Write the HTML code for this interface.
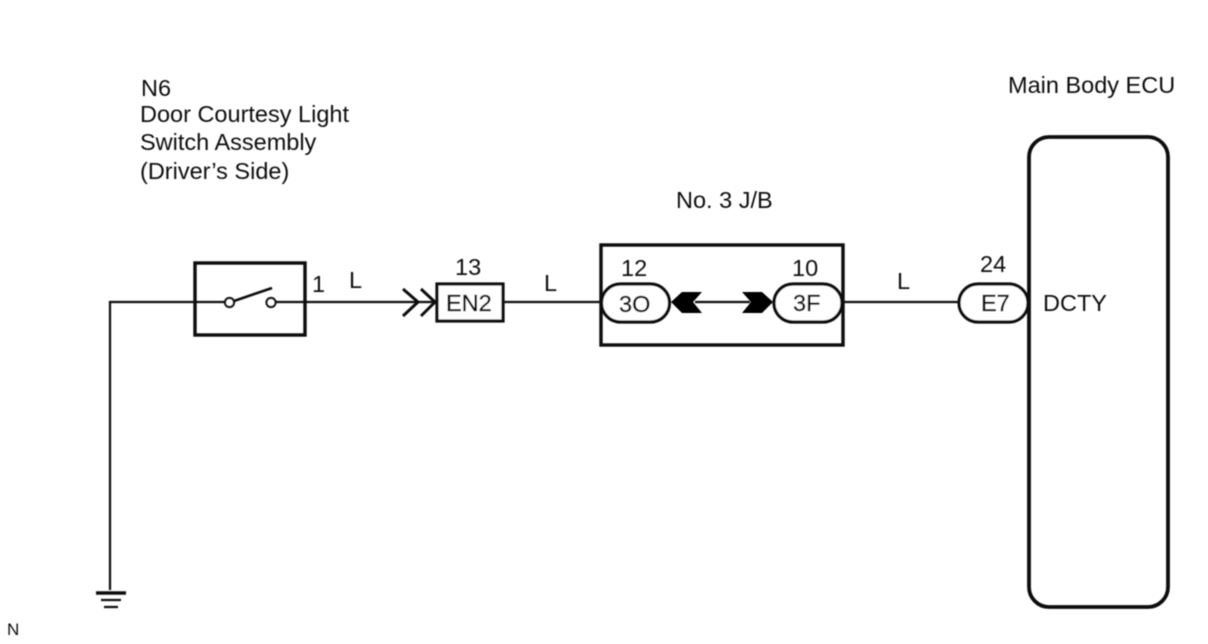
<!DOCTYPE html>
<html><head><meta charset="utf-8"><style>
html,body{margin:0;padding:0;background:#fff;width:1208px;height:644px;overflow:hidden}
svg{display:block}
text{font-family:"Liberation Sans",sans-serif;font-size:23.5px;fill:#111}
.d{stroke:#111;stroke-width:.4px}
</style></head><body>
<svg width="1208" height="644" viewBox="0 0 1208 644">
<defs><filter id="s" x="-2%" y="-2%" width="104%" height="104%"><feGaussianBlur stdDeviation="0.4"/></filter></defs>
<g filter="url(#s)">
<g fill="none" stroke="#111">
<path d="M110 590V302H226M275 302H436M504 302H601M843 302H959" stroke-width="2.200"/>
<path d="M96 593H126" stroke-width="3.500"/>
<path d="M101 600H121M104 607H118" stroke-width="2.200"/>
<rect x="195" y="263" width="110" height="72" stroke-width="3.400"/>
<circle cx="229.500" cy="302.500" r="4.500" fill="#fff" stroke-width="2.200"/>
<circle cx="271" cy="302.500" r="4.500" fill="#fff" stroke-width="2.200"/>
<path d="M234 301L272 288" stroke-width="2.600"/>
<path d="M403 289L418 302L403 316M421 289L435 302L421 316" stroke-width="3"/>
<rect x="437" y="284" width="66" height="37" fill="#fff" stroke-width="3.200"/>
<rect x="601" y="245" width="242" height="100" stroke-width="3.400"/>
<rect x="601.500" y="284" width="68" height="38" rx="19" fill="#fff" stroke-width="3.200"/>
<rect x="774" y="284" width="68" height="38" rx="19" fill="#fff" stroke-width="3.200"/>
<path d="M695 302H750" stroke-width="2.200"/>
<rect x="959" y="284" width="69" height="38" rx="19" fill="#fff" stroke-width="3.200"/>
<rect x="1029" y="137" width="139" height="470" rx="20" fill="none" stroke-width="3.800"/>
</g>
<path d="M671 302L682 292H702L693 302L702 313H682Z" fill="#000"/>
<path d="M773 302L762 292H742L751 302L742 313H762Z" fill="#000"/>
<text x="141" y="96">N6</text>
<text x="140" y="122">Door Courtesy Light</text>
<text x="140" y="150">Switch Assembly</text>
<text x="140" y="179">(Driver’s Side)</text>
<text x="1008" y="93">Main Body ECU</text>
<text x="676" y="208">No. 3 J/B</text>
<text x="312" y="292">1</text>
<text x="349" y="288">L</text>
<text x="544" y="291">L</text>
<text x="897" y="289">L</text>
<text x="455" y="275">13</text>
<text x="621" y="276">12</text>
<text x="792" y="276">10</text>
<text x="980" y="272">24</text>
<text class="d" x="446" y="311">EN2</text>
<text class="d" x="619" y="312">3O</text>
<text class="d" x="793" y="311">3F</text>
<text class="d" x="981" y="311">E7</text>
<text x="1043" y="311">DCTY</text>
<text x="7" y="635" style="font-size:17px">N</text>
</g>
</svg>
</body></html>
